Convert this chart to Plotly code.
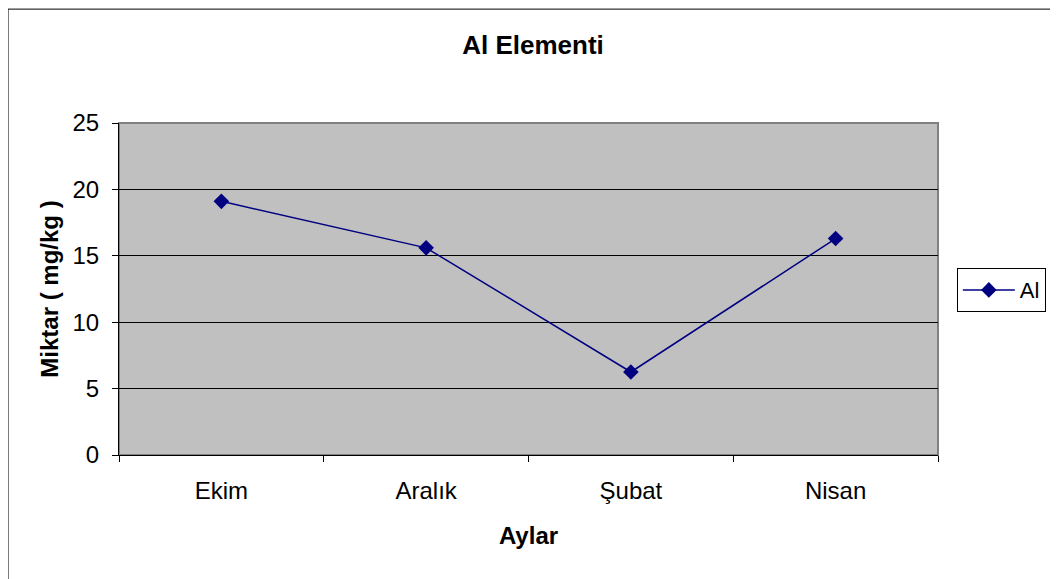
import plotly.graph_objects as go

# Al element content per month
months = ["Ekim", "Aralık", "Şubat", "Nisan"]
al_values = [19.1, 15.6, 6.25, 16.3]
y_ticks = [0, 5, 10, 15, 20, 25]

fig = go.Figure()

fig.add_trace(
    go.Scatter(
        x=months,
        y=al_values,
        mode="lines+markers",
        name="Al",
        line=dict(color="#000080", width=1.5),
        marker=dict(symbol="diamond", size=12, color="#000080"),
    )
)

fig.update_layout(
    width=1050,
    height=571,
    paper_bgcolor="white",
    plot_bgcolor="#C0C0C0",
    font=dict(family="Liberation Sans, Arial, sans-serif", color="black", size=24),
    margin=dict(l=111, r=120, t=115, b=124),
    title=dict(
        text="<b>Al Elementi</b>",
        x=0.5,
        xanchor="center",
        y=0.935,
        yanchor="middle",
        font=dict(size=26),
    ),
    showlegend=True,
    legend=dict(
        x=1.023,
        y=0.563,
        xanchor="left",
        yanchor="top",
        bordercolor="black",
        borderwidth=1,
        bgcolor="white",
        font=dict(size=22),
        itemwidth=52,
        tracegroupgap=0,
    ),
)

fig.update_xaxes(
    title=dict(text="<b>Aylar</b>", font=dict(size=24), standoff=24),
    range=[-0.5, 3.5],
    tickson="boundaries",
    ticks="outside",
    ticklen=6,
    tickcolor="black",
    ticklabelstandoff=14,
    showline=True,
    linecolor="black",
    showgrid=False,
    zeroline=False,
)

fig.update_yaxes(
    title=dict(text="<b>Miktar ( mg/kg )</b>", font=dict(size=24), standoff=7),
    range=[0, 25],
    tickvals=y_ticks,
    ticks="outside",
    ticklen=6,
    tickcolor="black",
    ticklabelstandoff=8,
    showline=True,
    linecolor="black",
    showgrid=True,
    gridcolor="black",
    gridwidth=1,
    zeroline=False,
)

# gray border on top/right of plot area
fig.add_shape(
    type="rect", xref="paper", yref="paper",
    x0=0, x1=1, y0=0, y1=1,
    line=dict(color="#808080", width=2),
    layer="below",
)

# outer chart frame
fig.add_shape(
    type="rect", xref="paper", yref="paper",
    x0=-0.1355, x1=1.1453, y0=-0.45, y1=1.343,
    line=dict(color="black", width=1),
)

fig.write_html("out.html")
